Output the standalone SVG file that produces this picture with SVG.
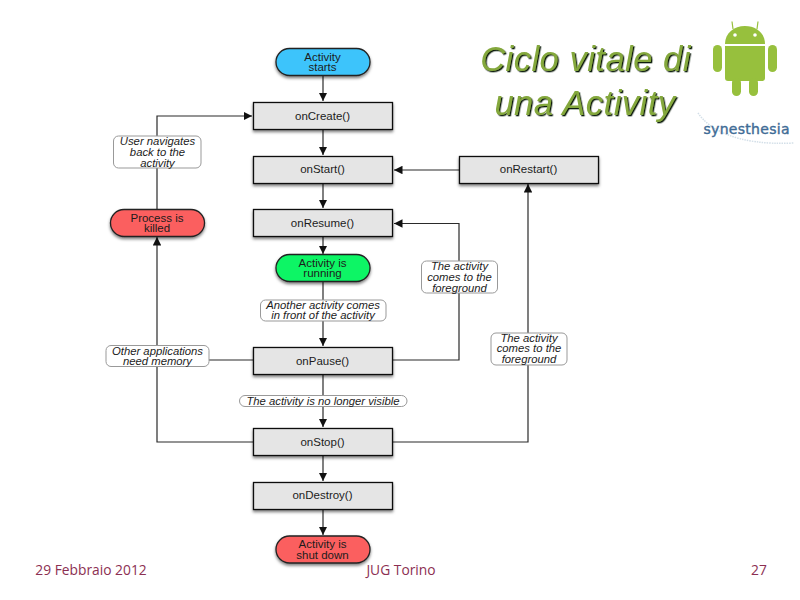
<svg xmlns="http://www.w3.org/2000/svg" width="800" height="600" viewBox="0 0 800 600">
<style>
text{font-family:"Liberation Sans",Arial,sans-serif;text-anchor:middle;fill:#1c1c1c}
.n{font-size:11.500px}
.p{font-size:11.500px}
.l{font-size:11.300px;font-style:italic}
.box{fill:#e5e5e5;stroke:#111;stroke-width:1.300;filter:url(#sh)}
.pill{stroke:#222;stroke-width:1.300;filter:url(#sh)}
.lab{fill:#fff;stroke:#999;stroke-width:1}
.c{fill:none;stroke:#2a2a2a;stroke-width:1.200}
.t{font-size:34.500px;font-style:italic;letter-spacing:.5px;fill:#84a83c;filter:url(#ts)}
.f{font-family:"Open Sans","Noto Sans",sans-serif;font-size:13.800px;fill:#8c2f52}
.and{fill:#97c03d}
</style>
<defs>
<filter id="sh" x="-10%" y="-20%" width="120%" height="150%"><feDropShadow dx="0" dy="2" stdDeviation="1.600" flood-color="#000" flood-opacity=".5"/></filter>
<filter id="ts" x="-5%" y="-10%" width="110%" height="125%"><feDropShadow dx="1.300" dy="1.300" stdDeviation=".2" flood-color="#0b1f10" flood-opacity="1"/></filter>
<marker id="a" viewBox="0 0 10 10" refX="10" refY="5" markerWidth="8.500" markerHeight="8.500" markerUnits="userSpaceOnUse" orient="auto"><path d="M0 0L10 5L0 10Z" fill="#111"/></marker>
</defs>
<rect width="800" height="600" fill="#fff"/>
<g id="connectors">
<path class="c" marker-end="url(#a)" d="M323 76V101"/>
<path class="c" marker-end="url(#a)" d="M323 129V155"/>
<path class="c" marker-end="url(#a)" d="M323 183V208"/>
<path class="c" marker-end="url(#a)" d="M323 236V254"/>
<path class="c" marker-end="url(#a)" d="M323 282V346"/>
<path class="c" marker-end="url(#a)" d="M323 375V427"/>
<path class="c" marker-end="url(#a)" d="M323 456V481"/>
<path class="c" marker-end="url(#a)" d="M323 510V535"/>
<path class="c" marker-end="url(#a)" d="M459 170H394"/>
<path class="c" marker-end="url(#a)" d="M392 360H459V223.500H394"/>
<path class="c" marker-end="url(#a)" d="M392 442H528V184"/>
<path class="c" marker-end="url(#a)" d="M253 442H157V237"/>
<path class="c" d="M253 360H157"/>
<path class="c" marker-end="url(#a)" d="M157 209V116H252"/>
</g>
<g id="start"><rect class="pill" x="276" y="48.500" width="94" height="27" rx="13.500" fill="#3cc4fb"/><text class="p" x="322.500" y="60.500">Activity</text><text class="p" x="322.500" y="71">starts</text></g>
<g id="onCreate"><rect class="box" x="253.500" y="102.500" width="139" height="27"/><text class="n" x="322.500" y="119.500">onCreate()</text></g>
<g id="onStart"><rect class="box" x="253.500" y="156.500" width="139" height="27"/><text class="n" x="322.500" y="173">onStart()</text></g>
<g id="onResume"><rect class="box" x="253.500" y="209.500" width="139" height="27"/><text class="n" x="322.500" y="226.500">onResume()</text></g>
<g id="running"><rect class="pill" x="276" y="254.500" width="94" height="27" rx="13.500" fill="#0bf565"/><text class="p" x="322.500" y="266.500">Activity is</text><text class="p" x="322.500" y="277">running</text></g>
<g id="onPause"><rect class="box" x="253.500" y="347.500" width="139" height="27"/><text class="n" x="322.500" y="364.500">onPause()</text></g>
<g id="onStop"><rect class="box" x="253.500" y="428.500" width="139" height="27"/><text class="n" x="322.500" y="445.500">onStop()</text></g>
<g id="onDestroy"><rect class="box" x="253.500" y="482.500" width="139" height="27"/><text class="n" x="322.500" y="499">onDestroy()</text></g>
<g id="onRestart"><rect class="box" x="459.500" y="156.500" width="139" height="27"/><text class="n" x="528.500" y="173">onRestart()</text></g>
<g id="shutdown"><rect class="pill" x="276" y="536" width="94" height="27" rx="13.500" fill="#fb5f5f"/><text class="p" x="322.500" y="548">Activity is</text><text class="p" x="322.500" y="558.500">shut down</text></g>
<g id="killed"><rect class="pill" x="110.500" y="209.500" width="94" height="27" rx="13.500" fill="#fb5f5f"/><text class="p" x="157" y="221.500">Process is</text><text class="p" x="157" y="232">killed</text></g>
<g id="lab-user"><rect class="lab" x="113.500" y="136" width="87.500" height="32" rx="5"/><text class="l" x="157.500" y="145">User navigates</text><text class="l" x="157.500" y="156">back to the</text><text class="l" x="157.500" y="166.500">activity</text></g>
<g id="lab-another"><rect class="lab" x="260.500" y="300" width="125.500" height="21" rx="5"/><text class="l" x="323" y="308.500">Another activity comes</text><text class="l" x="323" y="319">in front of the activity</text></g>
<g id="lab-other"><rect class="lab" x="106" y="345.500" width="103" height="21" rx="5"/><text class="l" x="157.500" y="354.500">Other applications</text><text class="l" x="157.500" y="365">need memory</text></g>
<g id="lab-visible"><rect class="lab" x="239.500" y="395.500" width="167.500" height="11" rx="5.500"/><text class="l" x="323" y="405">The activity is no longer visible</text></g>
<g id="lab-fg1"><rect class="lab" x="421.500" y="261" width="76" height="32" rx="5"/><text class="l" x="459.500" y="270">The activity</text><text class="l" x="459.500" y="281">comes to the</text><text class="l" x="459.500" y="291.500">foreground</text></g>
<g id="lab-fg2"><rect class="lab" x="491" y="333" width="76" height="32" rx="5"/><text class="l" x="529" y="341.500">The activity</text><text class="l" x="529" y="352">comes to the</text><text class="l" x="529" y="363">foreground</text></g>
<g id="title"><text class="t" x="585.500" y="71">Ciclo vitale di</text><text class="t" x="585" y="115">una Activity</text></g>
<g id="android">
<path class="and" d="M725 44C725 33 734 26 745 26C756 26 765 33 765 44Z"/>
<path d="M733 29L732 21.500M757 29L758 21.500" stroke="#97c03d" stroke-width="1.200" fill="none"/>
<circle cx="735" cy="35" r="1.800" fill="#fff"/><circle cx="755" cy="35" r="1.800" fill="#fff"/>
<path class="and" d="M725 46H765V78Q765 81 762 81H728Q725 81 725 78Z"/>
<rect class="and" x="713" y="45" width="9" height="27" rx="4.500"/><rect class="and" x="768" y="45" width="9" height="27" rx="4.500"/>
<rect class="and" x="732" y="78" width="9" height="18" rx="4.500"/><rect class="and" x="749" y="78" width="9" height="18" rx="4.500"/>
</g>
<g id="synesthesia">
<path d="M698 113C708 128 735 146 794 143" fill="none" stroke="#d3dfe8" stroke-width="1.500" stroke-dasharray="1.500 1"/>
<text x="746.500" y="134" style="font-family:'DejaVu Sans',sans-serif;font-size:14px;fill:#3f6c96;stroke:#3f6c96;stroke-width:.4" textLength="86">synesthesia</text>
</g>
<g id="footer"><text class="f" x="91" y="575">29 Febbraio 2012</text><text class="f" x="401" y="575">JUG Torino</text><text class="f" x="759" y="575">27</text></g>
</svg>
